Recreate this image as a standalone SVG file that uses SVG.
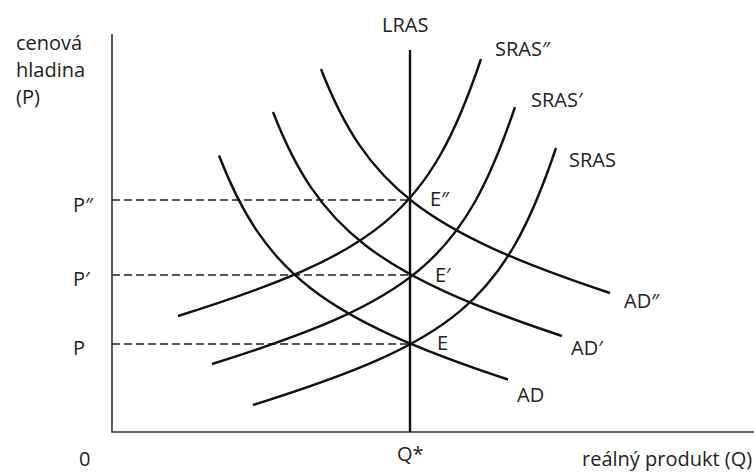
<svg xmlns="http://www.w3.org/2000/svg" xmlns:xlink="http://www.w3.org/1999/xlink" width="754" height="473" viewBox="0 0 754 473">
<style>
text{font-family:"Open Sans","Liberation Sans",sans-serif;font-size:20px;fill:#222}
.axis{stroke:#333;stroke-width:1.6;fill:none}
.curve{stroke:#111;stroke-width:2.4;fill:none}
.dash{stroke:#222;stroke-width:1.4;stroke-dasharray:8 4;fill:none}
</style>
<defs>
<path id="adShape" d="M321,69 C366.6,186.6 424.4,231.4 610,293"/>
<path id="srasShape" d="M178,316 C379.5,253 429.2,213 481,59"/>
</defs>
<rect width="754" height="473" fill="#fff"/>
<g id="axes">
<path class="axis" d="M112,34 V432 H754"/>
<text x="16" y="50">cenová</text>
<text x="16" y="77">hladina</text>
<text x="16" y="104">(P)</text>
<text x="79" y="466">0</text>
<text x="582" y="466">reálný produkt (Q)</text>
</g>
<g id="connectors">
<path class="dash" d="M112,200 H410"/>
<path class="dash" d="M112,275 H410"/>
<path class="dash" d="M112,344 H410"/>
</g>
<g id="LRAS">
<path class="curve" d="M410,50 V432" stroke-width="2"/>
<text x="382" y="32">LRAS</text>
<text x="397" y="461">Q*</text>
</g>
<g id="AD2">
<use href="#adShape" class="curve"/>
<text x="624" y="308">AD″</text>
</g>
<g id="AD1">
<use href="#adShape" class="curve" transform="translate(-48,43)"/>
<text x="571" y="355">AD′</text>
</g>
<g id="AD0">
<use href="#adShape" class="curve" transform="translate(-102,86.5)"/>
<text x="517" y="402">AD</text>
</g>
<g id="SRAS2">
<use href="#srasShape" class="curve"/>
<text x="495" y="56">SRAS″</text>
</g>
<g id="SRAS1">
<use href="#srasShape" class="curve" transform="translate(34,48)"/>
<text x="531" y="107">SRAS′</text>
</g>
<g id="SRAS0">
<use href="#srasShape" class="curve" transform="translate(75,89)"/>
<text x="569" y="167">SRAS</text>
</g>
<g id="Pl">
<text x="73" y="212">P″</text>
<text x="73" y="286">P′</text>
<text x="73" y="355">P</text>
</g>
<g id="El">
<text x="430" y="206">E″</text>
<text x="435" y="282">E′</text>
<text x="437" y="350">E</text>
</g>
</svg>
